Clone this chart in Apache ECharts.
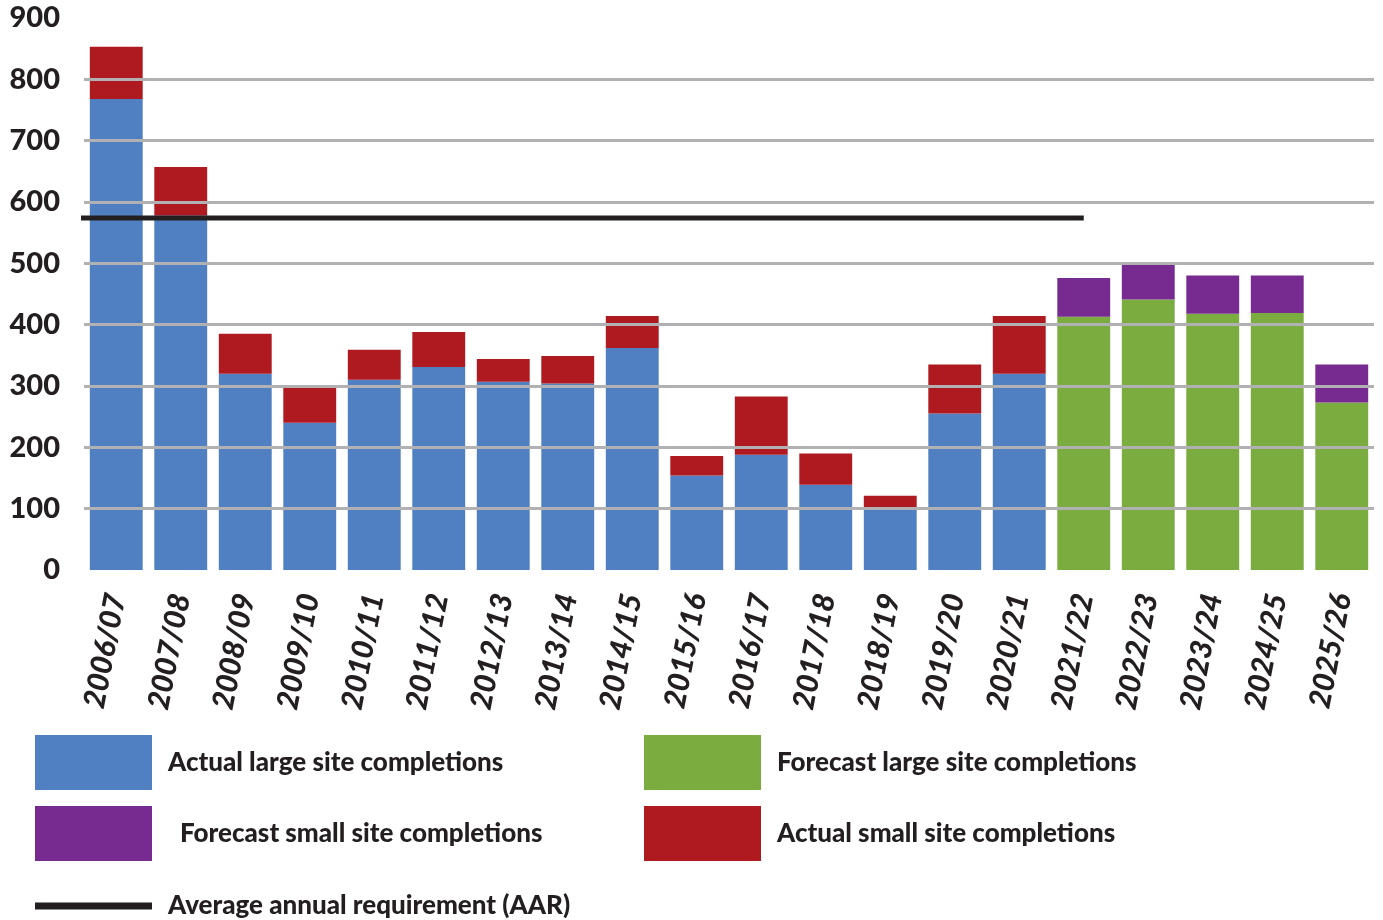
<!DOCTYPE html>
<html>
<head>
<meta charset="UTF-8">
<title>Housing completions</title>
<script src="https://cdn.jsdelivr.net/npm/echarts@6/dist/echarts.min.js"></script>
<style>
  html, body { margin: 0; padding: 0; background: #fff; }
  #main { width: 1383px; height: 920px; }
</style>
</head>
<body>
<div id="main"></div>
<script type="text/javascript">
// years on the x axis
var years = ['2006/07', '2007/08', '2008/09', '2009/10', '2010/11', '2011/12', '2012/13',
  '2013/14', '2014/15', '2015/16', '2016/17', '2017/18', '2018/19', '2019/20', '2020/21',
  '2021/22', '2022/23', '2023/24', '2024/25', '2025/26'];

// stacked parts (null = no bar for that year)
var actualLarge = [768, 578, 320, 240, 310, 331, 307, 304, 362, 154, 188, 139, 100, 255, 320,
  null, null, null, null, null];
var actualSmall = [85, 79, 65, 60, 49, 57, 37, 45, 52, 32, 95, 51, 21, 80, 94,
  null, null, null, null, null];
var forecastLarge = [null, null, null, null, null, null, null, null, null, null, null, null, null, null, null,
  413, 441, 418, 419, 273];
var forecastSmall = [null, null, null, null, null, null, null, null, null, null, null, null, null, null, null,
  63, 57, 62, 61, 62];

// average annual requirement and the span it is drawn over (category index units)
var aarValue = 574;
var aarSpan = [-0.56, 15];

var yTicks = [0, 100, 200, 300, 400, 500, 600, 700, 800, 900];

var ink = '#231f20';
var font = 'Lato';

var myChart = echarts.init(document.getElementById('main'));

function legendBox(name, left, top, w, h, pad) {
  return {
    data: [name],
    left: left,
    top: top,
    padding: 0,
    icon: 'rect',
    itemWidth: w,
    itemHeight: h,
    selectedMode: false,
    textStyle: {
      color: ink,
      fontFamily: font,
      fontWeight: 900,
      fontSize: 26,
      padding: pad
    }
  };
}

var option = {
  animation: false,
  backgroundColor: '#fff',
  grid: { left: 84, right: 9, top: 18, bottom: 350 },
  legend: [
    legendBox('Actual large site completions', 35, 735, 117, 55, [0, 0, 8, 11]),
    legendBox('Forecast large site completions', 644, 735, 117, 55, [0, 0, 8, 11]),
    legendBox('Forecast small site completions', 35, 806, 117, 55, [0, 0, 0, 23]),
    legendBox('Actual small site completions', 644, 806, 117, 55, [0, 0, 8, 11]),
    legendBox('Average annual requirement (AAR)', 35, 893, 117, 7, [0, 0, 2, 11])
  ],
  xAxis: [{
    type: 'category',
    data: years,
    axisLine: { show: false },
    axisTick: { show: false },
    axisLabel: {
      interval: 0,
      rotate: 79,
      margin: 24,
      color: ink,
      fontFamily: font,
      fontWeight: 900,
      fontStyle: 'italic',
      fontSize: 30
    }
  }, {
    type: 'value',
    min: -0.5,
    max: years.length - 0.5,
    show: false
  }],
  yAxis: {
    type: 'value',
    min: yTicks[0],
    max: yTicks[yTicks.length - 1],
    interval: 100,
    z: 10,
    axisLine: { show: false },
    axisTick: { show: false },
    axisLabel: {
      margin: 24,
      color: ink,
      fontFamily: font,
      fontWeight: 900,
      fontSize: 29,
      padding: [4, 0, 0, 0]
    },
    splitLine: {
      showMinLine: false,
      showMaxLine: false,
      lineStyle: { color: '#b1b1b3', width: 3 }
    }
  },
  series: [
    {
      name: 'Actual large site completions',
      type: 'bar',
      stack: 'total',
      barWidth: '82%',
      itemStyle: { color: '#5080c1' },
      data: actualLarge
    },
    {
      name: 'Forecast large site completions',
      type: 'bar',
      stack: 'total',
      barWidth: '82%',
      itemStyle: { color: '#7bac40' },
      data: forecastLarge
    },
    {
      name: 'Actual small site completions',
      type: 'bar',
      stack: 'total',
      barWidth: '82%',
      itemStyle: { color: '#af1a21' },
      data: actualSmall
    },
    {
      name: 'Forecast small site completions',
      type: 'bar',
      stack: 'total',
      barWidth: '82%',
      itemStyle: { color: '#772a8f' },
      data: forecastSmall
    },
    {
      name: 'Average annual requirement (AAR)',
      type: 'line',
      xAxisIndex: 1,
      clip: false,
      z: 5,
      symbol: 'none',
      itemStyle: { color: ink },
      lineStyle: { color: ink, width: 5 },
      data: [[aarSpan[0], aarValue], [aarSpan[1], aarValue]]
    }
  ]
};

myChart.setOption(option);
</script>
</body>
</html>
